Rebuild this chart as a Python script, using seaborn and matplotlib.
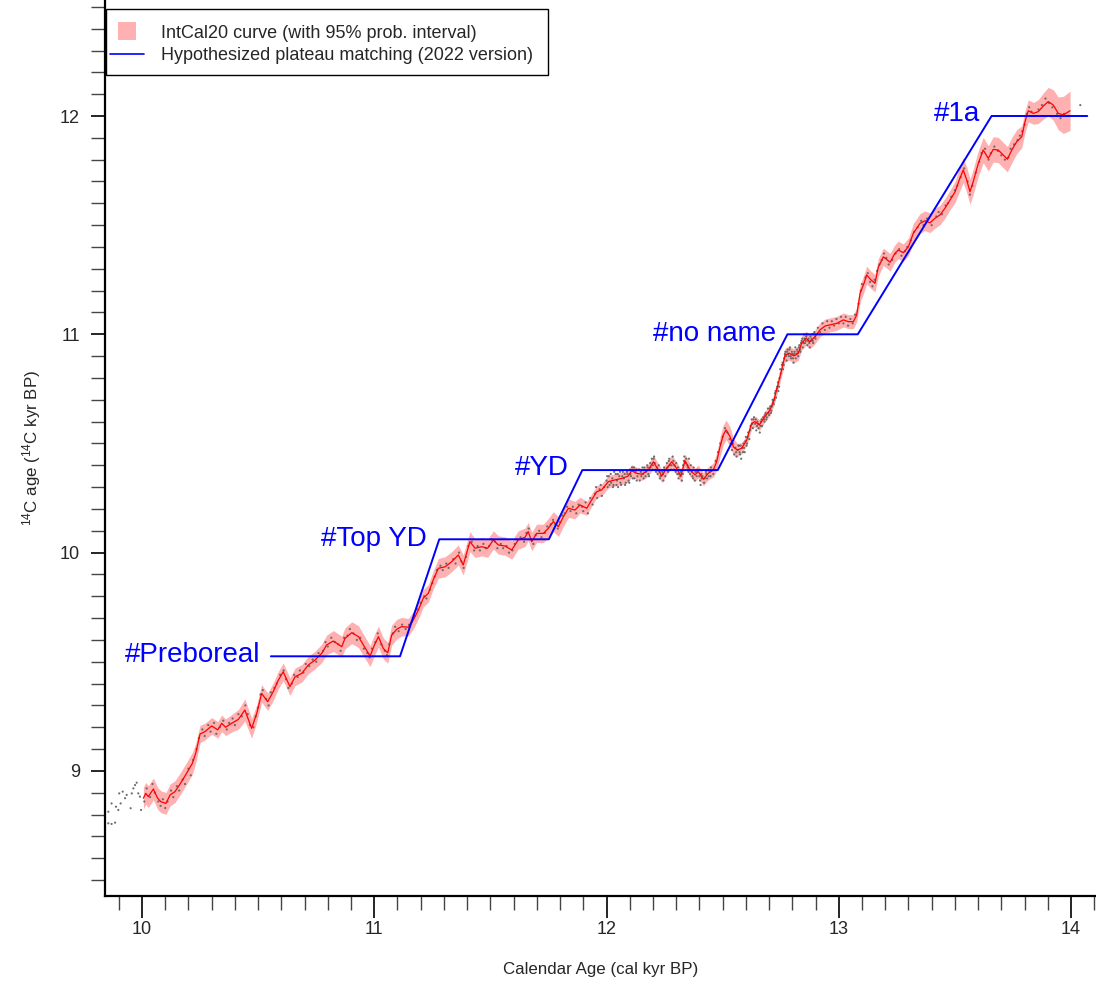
import matplotlib
matplotlib.use("Agg")
import matplotlib.pyplot as plt
from matplotlib.lines import Line2D
from matplotlib.patches import Rectangle
from matplotlib.ticker import MultipleLocator
import seaborn as sns
import numpy as np

# IntCal20 mean curve (cal kyr BP -> 14C kyr BP) and 95% half-width
cal_age = [
    10.006, 10.016, 10.027, 10.049, 10.067, 10.081, 10.103, 10.121, 10.142, 10.164,
    10.192, 10.217, 10.231, 10.250, 10.271, 10.300, 10.326, 10.343, 10.360, 10.386,
    10.415, 10.443, 10.472, 10.494, 10.515, 10.541, 10.565, 10.587, 10.608, 10.637,
    10.659, 10.688, 10.716, 10.745, 10.774, 10.795, 10.824, 10.860, 10.874, 10.903,
    10.932, 10.953, 10.982, 11.001, 11.018, 11.039, 11.058, 11.075, 11.097, 11.118,
    11.147, 11.168, 11.190, 11.211, 11.233, 11.254, 11.276, 11.305, 11.333, 11.362,
    11.383, 11.412, 11.434, 11.463, 11.488, 11.513, 11.534, 11.563, 11.592, 11.620,
    11.649, 11.663, 11.678, 11.699, 11.728, 11.749, 11.771, 11.793, 11.814, 11.836,
    11.864, 11.886, 11.915, 11.936, 11.958, 11.979, 12.008, 12.037, 12.066, 12.094,
    12.108, 12.130, 12.152, 12.180, 12.202, 12.223, 12.238, 12.259, 12.281, 12.302,
    12.320, 12.338, 12.360, 12.381, 12.395, 12.417, 12.438, 12.460, 12.474, 12.489,
    12.503, 12.515, 12.532, 12.546, 12.563, 12.582, 12.604, 12.625, 12.639, 12.658,
    12.682, 12.704, 12.721, 12.740, 12.754, 12.769, 12.787, 12.807, 12.826, 12.840,
    12.859, 12.876, 12.898, 12.919, 12.941, 12.962, 12.991, 13.020, 13.041, 13.063,
    13.077, 13.092, 13.109, 13.120, 13.138, 13.156, 13.170, 13.192, 13.221, 13.242,
    13.256, 13.278, 13.300, 13.321, 13.350, 13.371, 13.393, 13.414, 13.436, 13.457,
    13.479, 13.501, 13.519, 13.536, 13.551, 13.565, 13.579, 13.601, 13.622, 13.644,
    13.665, 13.687, 13.708, 13.726, 13.745, 13.766, 13.788, 13.802, 13.816, 13.838,
    13.859, 13.881, 13.902, 13.924, 13.945, 13.967, 13.996,
]
c14_age = [
    8.875, 8.897, 8.882, 8.917, 8.875, 8.859, 8.851, 8.890, 8.905, 8.940,
    8.989, 9.035, 9.080, 9.169, 9.180, 9.206, 9.188, 9.218, 9.200, 9.218,
    9.236, 9.279, 9.195, 9.263, 9.355, 9.317, 9.363, 9.416, 9.454, 9.386,
    9.431, 9.447, 9.485, 9.508, 9.539, 9.577, 9.595, 9.569, 9.607, 9.633,
    9.615, 9.577, 9.526, 9.577, 9.615, 9.561, 9.541, 9.622, 9.649, 9.661,
    9.658, 9.691, 9.737, 9.791, 9.814, 9.875, 9.928, 9.935, 9.958, 9.989,
    9.943, 10.050, 10.020, 10.027, 10.020, 10.058, 10.035, 10.030, 10.012, 10.058,
    10.070, 10.096, 10.050, 10.088, 10.088, 10.111, 10.142, 10.119, 10.164, 10.203,
    10.195, 10.218, 10.203, 10.241, 10.279, 10.287, 10.325, 10.333, 10.340, 10.351,
    10.375, 10.363, 10.359, 10.378, 10.416, 10.378, 10.351, 10.386, 10.416, 10.386,
    10.351, 10.421, 10.378, 10.356, 10.371, 10.336, 10.363, 10.378, 10.416, 10.485,
    10.540, 10.562, 10.531, 10.485, 10.470, 10.478, 10.516, 10.592, 10.600, 10.585,
    10.623, 10.653, 10.699, 10.776, 10.837, 10.905, 10.913, 10.901, 10.913, 10.959,
    10.982, 10.966, 10.989, 11.020, 11.038, 11.043, 11.050, 11.066, 11.058, 11.058,
    11.088, 11.188, 11.234, 11.272, 11.250, 11.234, 11.306, 11.355, 11.330, 11.371,
    11.386, 11.374, 11.401, 11.463, 11.508, 11.520, 11.511, 11.531, 11.547, 11.577,
    11.615, 11.653, 11.707, 11.753, 11.707, 11.653, 11.699, 11.783, 11.844, 11.806,
    11.847, 11.844, 11.821, 11.802, 11.844, 11.882, 11.905, 11.974, 12.024, 12.012,
    12.020, 12.046, 12.066, 12.050, 12.012, 12.005, 12.024,
]
c14_half95 = [
    0.050, 0.050, 0.050, 0.050, 0.050, 0.050, 0.050, 0.050, 0.050, 0.050,
    0.050, 0.050, 0.045, 0.040, 0.038, 0.038, 0.038, 0.038, 0.038, 0.040,
    0.045, 0.050, 0.045, 0.040, 0.040, 0.040, 0.040, 0.040, 0.040, 0.040,
    0.040, 0.040, 0.040, 0.040, 0.042, 0.045, 0.048, 0.048, 0.048, 0.050,
    0.050, 0.050, 0.048, 0.048, 0.048, 0.048, 0.048, 0.046, 0.045, 0.042,
    0.040, 0.040, 0.040, 0.040, 0.040, 0.042, 0.045, 0.046, 0.046, 0.046,
    0.046, 0.046, 0.042, 0.042, 0.042, 0.042, 0.042, 0.042, 0.042, 0.042,
    0.042, 0.042, 0.042, 0.042, 0.042, 0.045, 0.045, 0.045, 0.045, 0.042,
    0.040, 0.036, 0.032, 0.028, 0.028, 0.028, 0.028, 0.028, 0.028, 0.028,
    0.028, 0.028, 0.028, 0.028, 0.030, 0.030, 0.030, 0.030, 0.030, 0.030,
    0.030, 0.030, 0.030, 0.030, 0.030, 0.030, 0.030, 0.032, 0.040, 0.045,
    0.045, 0.045, 0.045, 0.040, 0.030, 0.025, 0.025, 0.025, 0.025, 0.025,
    0.025, 0.025, 0.025, 0.025, 0.028, 0.032, 0.032, 0.032, 0.032, 0.032,
    0.032, 0.032, 0.032, 0.032, 0.032, 0.032, 0.032, 0.032, 0.032, 0.032,
    0.032, 0.040, 0.040, 0.040, 0.040, 0.040, 0.040, 0.040, 0.040, 0.040,
    0.040, 0.040, 0.040, 0.045, 0.045, 0.045, 0.045, 0.045, 0.045, 0.045,
    0.045, 0.048, 0.055, 0.058, 0.058, 0.058, 0.058, 0.058, 0.058, 0.058,
    0.058, 0.058, 0.058, 0.058, 0.058, 0.055, 0.050, 0.050, 0.050, 0.050,
    0.055, 0.060, 0.065, 0.070, 0.075, 0.085, 0.090,
]

# raw 14C measurements (grey dots)
raw_x = [
    9.855, 9.869, 9.855, 9.869, 9.884, 9.888, 9.898, 9.908, 9.902, 9.917,
    9.927, 9.934, 9.951, 9.956, 9.963, 9.970, 9.977, 9.984, 9.996, 9.991,
    10.01, 10.02, 10.035, 10.045, 10.055, 10.07, 10.08, 10.09, 10.10, 10.11,
    10.125, 10.135, 10.15, 10.16, 10.175, 10.185, 10.20, 10.21, 10.22, 10.235,
    10.245, 10.26, 10.27, 10.285, 10.295, 10.31, 10.32, 10.335, 10.35, 10.365,
    10.375, 10.39, 10.40, 10.415, 10.43, 10.445, 10.455, 10.465, 10.48, 10.49,
    10.50, 10.51, 10.52, 10.535, 10.545, 10.555, 10.57, 10.58, 10.595, 10.61,
    10.62, 10.63, 10.645, 10.655, 10.67, 10.68, 10.695, 10.705, 10.72, 10.735,
    10.75, 10.76, 10.78, 10.79, 10.80, 10.815, 10.83, 10.845, 10.855, 10.87,
    10.885, 10.895, 10.91, 10.925, 10.94, 10.955, 10.97, 10.98, 10.99, 11.005,
    11.015, 11.03, 11.045, 11.055, 11.065, 11.08, 11.09, 11.105, 11.12, 11.135,
    11.15, 11.16, 11.175, 11.185, 11.20, 11.215, 11.225, 11.24, 11.25, 11.26,
    11.27, 11.285, 11.295, 11.31, 11.32, 11.34, 11.35, 11.365, 11.375, 11.385,
    11.395, 11.405, 11.42, 11.43, 11.445, 11.455, 11.47, 11.48, 11.495, 11.505,
    11.52, 11.53, 11.545, 11.555, 11.57, 11.58, 11.595, 11.605, 11.615, 11.63,
    11.645, 11.655, 11.665, 11.675, 11.685, 11.695, 11.71, 11.72, 11.735, 11.745,
    11.76, 11.77, 11.78, 11.79, 11.80, 11.81, 11.82, 11.83, 11.845, 11.855,
    11.87, 11.88, 11.895,
    11.90, 11.91, 11.92, 11.93, 11.94, 11.95, 11.955, 11.96, 11.97, 11.975,
    11.98, 11.99, 12.00, 12.005, 12.01, 12.02, 12.025, 12.03, 12.04, 12.045,
    12.05, 12.055, 12.06, 12.07, 12.075, 12.08, 12.09, 12.095, 12.10, 12.105,
    12.11, 12.12, 12.125, 12.13, 12.14, 12.15, 12.155, 12.16, 12.17, 12.175,
    12.18, 12.19, 12.195, 12.20, 12.205, 12.21, 12.22, 12.225, 12.23, 12.24,
    12.245, 12.25, 12.26, 12.265, 12.27, 12.28, 12.285, 12.29, 12.30, 12.305,
    12.31, 12.32, 12.325, 12.33, 12.335, 12.34, 12.35, 12.355, 12.36, 12.37,
    12.375, 12.38, 12.39, 12.40, 12.405, 12.41, 12.42, 12.43, 12.44, 12.45,
    12.46, 12.47, 12.48, 12.49, 12.50, 12.51, 12.52, 12.53, 12.535, 12.54,
    12.545, 12.55, 12.555, 12.56, 12.565, 12.57, 12.575, 12.58, 12.585, 12.59,
    12.595, 12.60, 12.605, 12.61, 12.615, 12.62, 12.625, 12.63, 12.635, 12.64,
    12.645, 12.65, 12.655, 12.66, 12.665, 12.67, 12.675, 12.68, 12.685, 12.69,
    12.695, 12.70, 12.705, 12.71, 12.715, 12.72, 12.725, 12.73, 12.735, 12.74,
    12.745, 12.75, 12.755, 12.76, 12.765, 12.77, 12.775, 12.78, 12.785, 12.79,
    12.795, 12.80, 12.805, 12.81, 12.815, 12.82, 12.825, 12.83, 12.835, 12.84,
    12.845, 12.85, 12.855, 12.86, 12.865, 12.87, 12.875, 12.88, 12.885, 12.89,
    12.895, 12.90, 12.91, 12.92, 12.93, 12.94, 12.95, 12.96, 12.97, 12.98,
    12.99, 13.00, 13.01, 13.02, 13.03, 13.04, 13.05, 13.06, 13.07,
    13.085, 13.095, 13.10, 13.115, 13.125, 13.135, 13.145, 13.155, 13.165, 13.175,
    13.185, 13.195, 13.205, 13.215, 13.23, 13.245, 13.26, 13.27, 13.285, 13.295,
    13.31, 13.325, 13.34, 13.355, 13.365, 13.38, 13.40, 13.42, 13.43, 13.445,
    13.46, 13.47, 13.485, 13.50, 13.51, 13.525, 13.54, 13.555, 13.565, 13.575,
    13.59, 13.605, 13.615, 13.63, 13.645, 13.655, 13.67, 13.685, 13.70, 13.715,
    13.73, 13.74, 13.755, 13.77, 13.78, 13.79, 13.80, 13.81, 13.82, 13.83,
    13.845, 13.86, 13.875, 13.89, 13.905, 13.92, 13.94, 13.955, 13.97, 14.04,
]
raw_y = [
    8.813, 8.851, 8.760, 8.757, 8.763, 8.836, 8.821, 8.851, 8.897, 8.905,
    8.875, 8.890, 8.829, 8.897, 8.920, 8.935, 8.946, 8.897, 8.821, 8.882,
    8.86, 8.92, 8.88, 8.94, 8.90, 8.86, 8.84, 8.87, 8.83, 8.86,
    8.91, 8.88, 8.93, 8.91, 8.96, 8.94, 9.01, 8.98, 9.05, 9.10,
    9.15, 9.19, 9.16, 9.21, 9.18, 9.22, 9.17, 9.20, 9.23, 9.19,
    9.22, 9.24, 9.21, 9.26, 9.25, 9.30, 9.26, 9.21, 9.20, 9.25,
    9.29, 9.35, 9.37, 9.33, 9.30, 9.36, 9.38, 9.40, 9.44, 9.46,
    9.42, 9.38, 9.40, 9.44, 9.43, 9.46, 9.45, 9.49, 9.48, 9.51,
    9.50, 9.54, 9.55, 9.59, 9.57, 9.61, 9.59, 9.58, 9.55, 9.61,
    9.62, 9.65, 9.63, 9.60, 9.61, 9.56, 9.54, 9.52, 9.56, 9.59,
    9.63, 9.58, 9.55, 9.53, 9.58, 9.63, 9.66, 9.64, 9.67, 9.65,
    9.67, 9.68, 9.71, 9.74, 9.77, 9.80, 9.79, 9.83, 9.86, 9.89,
    9.92, 9.94, 9.92, 9.95, 9.93, 9.97, 9.95, 10.00, 9.96, 9.93,
    9.98, 10.03, 10.05, 10.01, 10.03, 10.01, 10.04, 10.02, 10.03, 10.06,
    10.05, 10.02, 10.04, 10.02, 10.03, 10.00, 10.01, 10.04, 10.06, 10.07,
    10.05, 10.09, 10.11, 10.06, 10.04, 10.08, 10.10, 10.07, 10.09, 10.12,
    10.13, 10.15, 10.13, 10.11, 10.14, 10.17, 10.18, 10.21, 10.19, 10.21,
    10.18, 10.22, 10.21,
    10.19, 10.23, 10.18, 10.25, 10.22, 10.27, 10.30, 10.25, 10.29, 10.31,
    10.26, 10.30, 10.33, 10.30, 10.35, 10.32, 10.34, 10.31, 10.36, 10.33,
    10.30, 10.35, 10.32, 10.37, 10.34, 10.31, 10.36, 10.33, 10.38, 10.35,
    10.39, 10.34, 10.37, 10.33, 10.38, 10.35, 10.39, 10.34, 10.37, 10.40,
    10.36, 10.39, 10.43, 10.40, 10.44, 10.38, 10.36, 10.40, 10.34, 10.37,
    10.33, 10.38, 10.41, 10.37, 10.43, 10.40, 10.44, 10.38, 10.41, 10.36,
    10.34, 10.37, 10.33, 10.40, 10.44, 10.41, 10.39, 10.43, 10.36, 10.35,
    10.39, 10.33, 10.37, 10.35, 10.31, 10.34, 10.32, 10.36, 10.35, 10.39,
    10.36, 10.42, 10.46, 10.50, 10.53, 10.57, 10.55, 10.52, 10.50, 10.47,
    10.50, 10.45, 10.48, 10.44, 10.47, 10.49, 10.45, 10.43, 10.48, 10.50,
    10.46, 10.53, 10.50, 10.55, 10.52, 10.58, 10.61, 10.57, 10.62, 10.59,
    10.56, 10.60, 10.57, 10.55, 10.60, 10.58, 10.62, 10.60, 10.64, 10.62,
    10.66, 10.63, 10.67, 10.65, 10.70, 10.68, 10.73, 10.71, 10.76, 10.74,
    10.80, 10.82, 10.86, 10.84, 10.89, 10.92, 10.88, 10.93, 10.90, 10.94,
    10.89, 10.91, 10.87, 10.92, 10.89, 10.93, 10.90, 10.95, 10.92, 10.97,
    10.94, 11.00, 10.96, 10.99, 10.95, 10.98, 10.94, 10.97, 11.00, 10.96,
    11.01, 10.98, 11.03, 11.01, 11.05, 11.02, 11.06, 11.03, 11.06, 11.04,
    11.07, 11.05, 11.08, 11.05, 11.08, 11.04, 11.07, 11.05, 11.09,
    11.14, 11.20, 11.23, 11.26, 11.28, 11.24, 11.22, 11.25, 11.29, 11.32,
    11.34, 11.37, 11.35, 11.32, 11.34, 11.37, 11.39, 11.36, 11.38, 11.40,
    11.43, 11.47, 11.49, 11.52, 11.50, 11.53, 11.50, 11.54, 11.56, 11.55,
    11.59, 11.60, 11.63, 11.66, 11.68, 11.72, 11.76, 11.70, 11.64, 11.68,
    11.74, 11.79, 11.83, 11.85, 11.80, 11.83, 11.86, 11.84, 11.82, 11.80,
    11.81, 11.85, 11.87, 11.89, 11.91, 11.93, 11.96, 12.01, 12.04, 12.02,
    12.00, 12.03, 12.05, 12.08, 12.06, 12.04, 12.01, 11.99, 12.01, 12.05,
]
# extra measurements in the densely sampled Younger Dryas / Allerod stretch
dense_x = [
    12.003, 12.013, 12.018, 12.028, 12.033, 12.043, 12.048, 12.058, 12.063, 12.068,
    12.078, 12.083, 12.088, 12.098, 12.103, 12.113, 12.118, 12.128, 12.133, 12.143,
    12.148, 12.158, 12.163, 12.168, 12.178, 12.183, 12.188, 12.198, 12.203, 12.208,
    12.213, 12.218, 12.228, 12.233, 12.243, 12.248, 12.253, 12.263, 12.268, 12.273,
    12.278, 12.288, 12.293, 12.298, 12.308, 12.313, 12.318, 12.328, 12.333, 12.343,
    12.348, 12.353, 12.363, 12.368, 12.373, 12.383, 12.388, 12.393, 12.403, 12.408,
    12.413, 12.423, 12.428, 12.433, 12.443, 12.448,
    12.558, 12.568, 12.573, 12.578, 12.588, 12.592, 12.598, 12.603, 12.608, 12.618,
    12.628, 12.633, 12.643, 12.648, 12.653, 12.663, 12.668, 12.678, 12.683, 12.688,
    12.698, 12.703, 12.708, 12.713, 12.718, 12.723, 12.728, 12.733, 12.738, 12.743,
    12.748, 12.758, 12.763, 12.768, 12.773, 12.778, 12.783, 12.788, 12.793, 12.798,
    12.803, 12.808, 12.813, 12.818, 12.823, 12.828, 12.833, 12.838, 12.843, 12.848,
    12.853, 12.858, 12.863, 12.868, 12.873, 12.878, 12.883, 12.888, 12.893, 12.898,
]
dense_y = [
    10.35, 10.31, 10.36, 10.30, 10.37, 10.31, 10.36, 10.37, 10.31, 10.35,
    10.36, 10.32, 10.37, 10.32, 10.36, 10.34, 10.39, 10.38, 10.35, 10.33,
    10.37, 10.36, 10.39, 10.35, 10.39, 10.35, 10.41, 10.38, 10.43, 10.41,
    10.37, 10.39, 10.37, 10.35, 10.36, 10.39, 10.35, 10.39, 10.42, 10.40,
    10.38, 10.42, 10.40, 10.37, 10.39, 10.36, 10.35, 10.36, 10.42, 10.43,
    10.40, 10.37, 10.40, 10.37, 10.34, 10.37, 10.35, 10.38, 10.33, 10.36,
    10.35, 10.34, 10.37, 10.34, 10.37, 10.35,
    10.46, 10.49, 10.46, 10.49, 10.46, 10.48, 10.51, 10.49, 10.53, 10.56,
    10.59, 10.61, 10.61, 10.58, 10.59, 10.58, 10.61, 10.61, 10.63, 10.61,
    10.64, 10.66, 10.64, 10.67, 10.69, 10.70, 10.74, 10.75, 10.78, 10.76,
    10.84, 10.87, 10.86, 10.91, 10.90, 10.92, 10.91, 10.93, 10.90, 10.92,
    10.89, 10.91, 10.94, 10.91, 10.92, 10.94, 10.93, 10.96, 10.98, 10.96,
    10.98, 10.97, 11.00, 10.97, 10.96, 10.99, 10.98, 10.97, 11.00, 10.99,
]

# hypothesized plateau matching (2022 version)
plateau_x = [10.555, 11.111, 11.280, 11.752, 11.896, 12.479, 12.779, 13.082, 13.658, 14.070]
plateau_y = [9.525, 9.525, 10.061, 10.061, 10.378, 10.378, 11.000, 11.000, 12.000, 12.000]

plateau_names = ["#Preboreal", "#Top YD", "#YD", "#no name", "#1a"]
name_x = [10.508, 11.226, 11.839, 12.729, 13.608]
name_y = [9.497, 10.032, 10.355, 10.971, 11.977]

sns.set_style("ticks")
plt.rcParams['font.family'] = ['Liberation Sans', 'DejaVu Sans']
plt.rcParams['mathtext.fontset'] = 'custom'
plt.rcParams['mathtext.rm'] = 'Liberation Sans'
plt.rcParams['mathtext.it'] = 'Liberation Sans:italic'

W, H = 1096, 981
fig = plt.figure(figsize=(W / 100, H / 100), dpi=100)
ax_left, ax_bottom = 105, 896
ax = fig.add_axes([ax_left / W, (H - ax_bottom) / H, (W - ax_left) / W, ax_bottom / H])

band_col = '#ffb0b0'
ax.fill_between(cal_age, np.array(c14_age) - np.array(c14_half95),
                np.array(c14_age) + np.array(c14_half95),
                color=band_col, lw=0, zorder=1)
sns.scatterplot(x=raw_x + dense_x, y=raw_y + dense_y, ax=ax, s=2.5, color='#606060',
                edgecolor='none', linewidth=0, alpha=0.9, zorder=2)
sns.lineplot(x=cal_age, y=c14_age, ax=ax, color='#ff0000', lw=0.9,
             estimator=None, zorder=3)
sns.lineplot(x=plateau_x, y=plateau_y, ax=ax, color='#0000ff', lw=1.4,
             estimator=None, zorder=4)

for name, nx, ny in zip(plateau_names, name_x, name_y):
    ax.text(nx, ny, name, color='#0000ff', fontsize=20, ha='right', va='baseline', zorder=5)

# px -> data mapping taken from the tick positions
px_per_x = 232.25
px_per_y = 218.3
ax.set_xlim(10 - (142 - ax_left) / px_per_x, 10 + (W - 142) / px_per_x)
ax.set_ylim(12 - (ax_bottom - 116) / px_per_y, 12 + 116 / px_per_y)

ax.xaxis.set_major_locator(MultipleLocator(1))
ax.xaxis.set_minor_locator(MultipleLocator(0.1))
ax.yaxis.set_major_locator(MultipleLocator(1))
ax.yaxis.set_minor_locator(MultipleLocator(0.1))
ax.tick_params(axis='x', which='major', length=16, width=1.2, pad=2, labelsize=13, color='black')
ax.tick_params(axis='x', which='minor', length=10, width=1.0, color='#444444')
ax.tick_params(axis='y', which='major', length=10, width=1.2, pad=8, labelsize=13, color='black')
ax.tick_params(axis='y', which='minor', length=10, width=1.0, color='#444444')

for side in ['top', 'right']:
    ax.spines[side].set_visible(False)
for side in ['left', 'bottom']:
    ax.spines[side].set_linewidth(1.6)
    ax.spines[side].set_color('black')

ax.set_xlabel("Calendar Age (cal kyr BP)", fontsize=12.2)
ax.set_ylabel("$^{14}$C age ($^{14}$C kyr BP)", fontsize=12.2)
ax.xaxis.set_label_coords(0.5, (ax_bottom - 962) / ax_bottom)
ax.yaxis.set_label_coords((43 - ax_left) / (W - ax_left), 0.5)

# legend box drawn by hand so its padding matches the reference
box_l, box_t, box_r, box_b = 105.7, 8.6, 548, 75.4
ax.add_patch(Rectangle((box_l / W, 1 - box_b / H), (box_r - box_l) / W, (box_b - box_t) / H,
                       transform=fig.transFigure, facecolor='white', edgecolor='black',
                       lw=1.0, clip_on=False, zorder=10))
handles = [
    Line2D([], [], marker='s', ls='none', markersize=12.5, color=band_col, markeredgewidth=0),
    Line2D([], [], color='#0000ff', lw=1.2),
]
labels = ["IntCal20 curve (with 95% prob. interval)",
          "Hypothesized plateau matching (2022 version)"]
leg = ax.legend(handles, labels, loc='upper left', bbox_to_anchor=(110 / W, 1 - 24.5 / H),
                bbox_transform=fig.transFigure, borderaxespad=0, borderpad=0,
                fontsize=13, frameon=False, handlelength=1.9, handletextpad=0.9,
                labelspacing=0.3)
leg.set_zorder(11)

fig.savefig("out.png", dpi=100)
